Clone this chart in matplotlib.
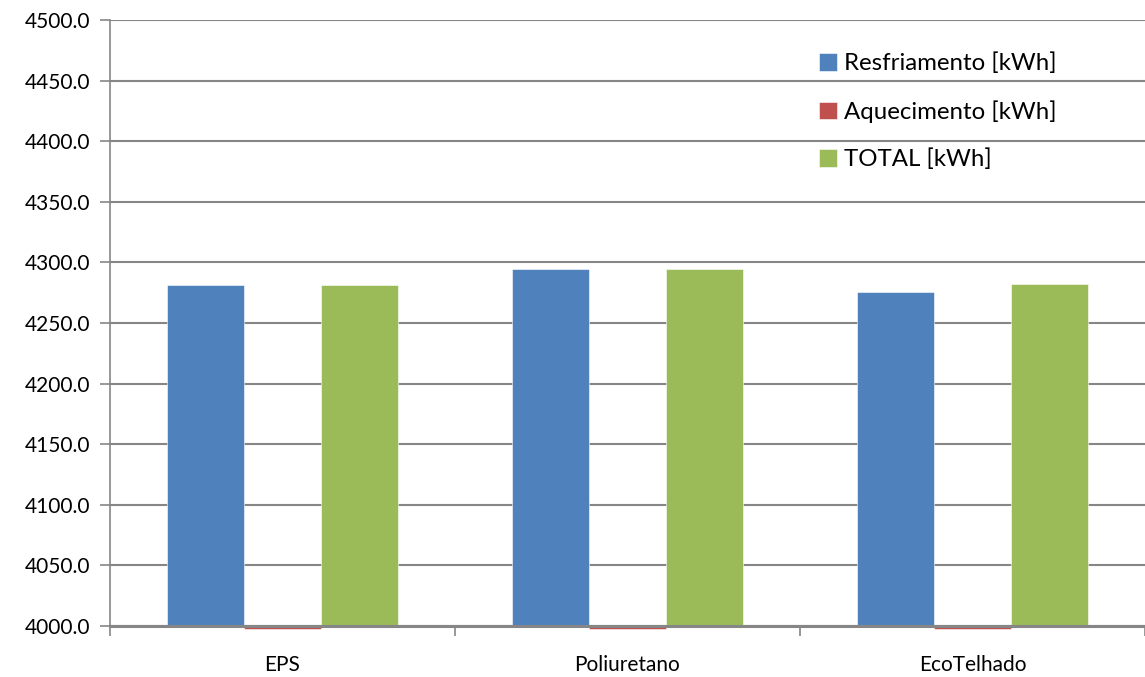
import numpy as np
import matplotlib
matplotlib.use("Agg")
import matplotlib.pyplot as plt

# ── データ ──────────────────────────────
categories = ["EPS", "Poliuretano", "EcoTelhado"]
resfriamento = [4281.4, 4294.3, 4275.8]
aquecimento = [0.0, 0.0, 6.6]
total = [4281.4, 4294.3, 4282.4]
series_labels = ["Resfriamento [kWh]", "Aquecimento [kWh]", "TOTAL [kWh]"]
colors = ["#4f81bd", "#c0504d", "#9bbb59"]

Y_MIN, Y_MAX, Y_STEP = 4000, 4500, 50

plt.rcParams["font.family"] = ["Lato", "DejaVu Sans"]
plt.rcParams["font.size"] = 15

fig = plt.figure(figsize=(11.45, 6.77), dpi=100)
ax = fig.add_axes([110 / 1145, 1 - 626 / 677, 1 - 110 / 1145, (626 - 20) / 677])

x = np.arange(len(categories))
w = 0.224
grid_c = "#868686"

for i, (vals, lab, c) in enumerate(zip([resfriamento, aquecimento, total], series_labels, colors)):
    xs = x + (i - 1) * w
    heights = np.array(vals) - Y_MIN
    # 軸の最小値より小さい値は軸の下に細い帯として表示 (Excel風)
    small = np.array(vals) < Y_MIN
    heights = np.where(small, -2.8, heights)
    ax.bar(xs, heights, w, bottom=Y_MIN, color=c, label=lab, clip_on=False,
           edgecolor="white", linewidth=0.4, zorder=3)

ax.set_ylim(Y_MIN, Y_MAX)
ax.set_xlim(-0.5, len(categories) - 0.5)
yt = np.arange(Y_MIN, Y_MAX + 1, Y_STEP)
ax.set_yticks(yt)
ax.set_yticklabels([f"{v:.1f}" for v in yt])
ax.yaxis.grid(True, color=grid_c, linewidth=1.5, zorder=0)
ax.set_axisbelow(True)

# x 軸: 境界に目盛、中央にラベル
ax.set_xticks(np.arange(-0.5, len(categories), 1.0))
ax.set_xticklabels([])
ax.set_xticks(x, minor=True)
ax.set_xticklabels(categories, minor=True)
ax.tick_params(axis="x", which="major", length=7, width=1.2, color=grid_c, direction="out")
ax.tick_params(axis="x", which="minor", length=0, pad=21)
ax.tick_params(axis="y", length=7, width=1.2, color=grid_c, direction="out", pad=7)

for s in ["top", "right"]:
    ax.spines[s].set_visible(False)
ax.spines["left"].set_color(grid_c)
ax.spines["left"].set_linewidth(1.2)
ax.spines["bottom"].set_color(grid_c)
ax.spines["bottom"].set_linewidth(2.2)
ax.spines["bottom"].set_zorder(4)

leg = ax.legend(loc="upper left", bbox_to_anchor=(0.6755, 0.962), frameon=False,
                fontsize=17.3, handlelength=0.75, handleheight=0.75, handletextpad=0.3,
                labelspacing=1.08, borderaxespad=0)

fig.savefig("out.png", dpi=100)
